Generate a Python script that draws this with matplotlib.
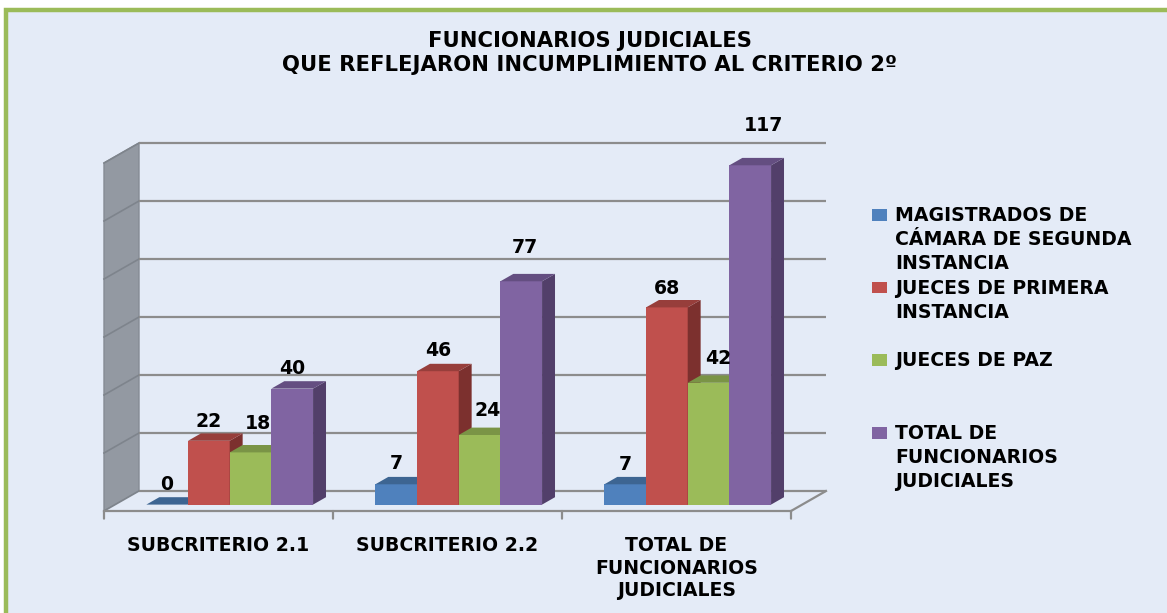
import matplotlib
matplotlib.use("Agg")
import matplotlib.pyplot as plt
from matplotlib.patches import Polygon, Rectangle
import numpy as np

# ---------------- data ----------------
categories = ["SUBCRITERIO 2.1", "SUBCRITERIO 2.2", "TOTAL DE\nFUNCIONARIOS\nJUDICIALES"]
series_names = ["MAGISTRADOS DE\nCÁMARA DE SEGUNDA\nINSTANCIA",
                "JUECES DE PRIMERA\nINSTANCIA",
                "JUECES DE PAZ",
                "TOTAL DE\nFUNCIONARIOS\nJUDICIALES"]
magistrados = [0, 7, 7]
jueces_primera = [22, 46, 68]
jueces_paz = [18, 24, 42]
total_funcionarios = [40, 77, 117]
title = "FUNCIONARIOS JUDICIALES\nQUE REFLEJARON INCUMPLIMIENTO AL CRITERIO 2º"
y_max = 120
y_step = 20

series_values = [magistrados, jueces_primera, jueces_paz, total_funcionarios]

# ---------------- style ----------------
W, H, DPI = 1167, 613, 100
BG = "#E4EBF7"
BORDER = "#9BBB59"
WALL = "#9399A2"
GRID = "#8C8C8C"
front_cols = ["#4F81BD", "#C0504D", "#9BBB59", "#8064A2"]
top_cols = ["#3D6592", "#973E3B", "#7A9446", "#644E81"]
side_cols = ["#33557D", "#7C302E", "#637A37", "#523F6A"]
FONT = "DejaVu Sans"
FS = 13.6

# label offsets in pixels (dx, dy) per series/category
label_off = [[(-1, 20), (0, 21), (0, 20)],
             [(0, 19), (0, 20.5), (0, 19)],
             [(7, 29), (8, 25), (10, 24.5)],
             [(0, 20), (4, 34), (13, 40)]]

fig = plt.figure(figsize=(W / DPI, H / DPI), dpi=DPI, facecolor="white")

# chart area background with green border (top/left visible)
fig.patches.append(Rectangle((6 / W, -0.1), 1.2, 1 - 10 / H + 0.1,
                             transform=fig.transFigure, facecolor=BG,
                             edgecolor=BORDER, linewidth=3.2, zorder=-5))

# back wall axes (pixel geometry)
L, R, T, B = 139, 826, 143, 491
ax = fig.add_axes([L / W, 1 - B / H, (R - L) / W, (B - T) / H])
ax.set_zorder(1)
ax.set_xlim(-0.5, len(categories) - 0.5)
ax.set_ylim(0, y_max)
ax.axis("off")
ax.patch.set_visible(False)

px_per_cat = (R - L) / len(categories)
px_per_val = (B - T) / y_max
DEPTH_PX = (35, 20)
DX = DEPTH_PX[0] / px_per_cat
DY = DEPTH_PX[1] / px_per_val


def proj(x, y, d):
    """3D point (category x, value y, depth d: 0 front .. 1 back) -> axes data."""
    return (x - (1 - d) * DX, y - (1 - d) * DY)


x0, x1 = -0.5, len(categories) - 0.5
levels = np.arange(0, y_max + y_step, y_step)

# side wall
side = Polygon([proj(x0, 0, 0), proj(x0, 0, 1), proj(x0, y_max, 1), proj(x0, y_max, 0)],
               closed=True, facecolor=WALL, edgecolor="#868C94", linewidth=1.0,
               clip_on=False, zorder=1)
ax.add_patch(side)
for v in levels:
    p0, p1 = proj(x0, v, 0), proj(x0, v, 1)
    ax.plot([p0[0], p1[0]], [p0[1], p1[1]], color="#7E848C", lw=1.2, clip_on=False, zorder=2)

# back wall gridlines
ax.hlines(levels, x0, x1, colors=GRID, lw=1.6, zorder=2, clip_on=False)

# floor
floor_pts = [proj(x0, 0, 0), proj(x1, 0, 0), proj(x1, 0, 1), proj(x0, 0, 1)]
ax.add_patch(Polygon(floor_pts, closed=True, facecolor=BG, edgecolor="none",
                     clip_on=False, zorder=1.5))
for a, b in [(proj(x0, 0, 0), proj(x1, 0, 0)), (proj(x1, 0, 0), proj(x1, 0, 1))]:
    ax.plot([a[0], b[0]], [a[1], b[1]], color=GRID, lw=1.6, clip_on=False, zorder=2)

# category tick marks
for xb in np.arange(x0, x1 + 0.01, 1.0):
    p = proj(xb, 0, 0)
    ax.annotate("", xy=p, xytext=(0, -5.5), textcoords="offset points",
                arrowprops=dict(arrowstyle="-", color=GRID, lw=1.6,
                                shrinkA=0, shrinkB=0), annotation_clip=False)

# bars
n_ser = len(series_values)
bw = 0.182
d_front, d_back = 0.32, 0.69
xs = np.arange(len(categories))
for i, vals in enumerate(series_values):
    lefts = xs - n_ser * bw / 2 + i * bw
    fx, fy = proj(0, 0, d_front)
    bars = ax.bar(lefts + fx, vals, width=bw, bottom=fy, align="edge",
                  color=front_cols[i], linewidth=0, clip_on=False)
    for j, (rect, v) in enumerate(zip(bars, vals)):
        z = 10 + j * n_ser + i
        rect.set_zorder(z)
        l, r_ = lefts[j], lefts[j] + bw
        side_poly = [proj(r_, 0, d_front), proj(r_, 0, d_back),
                     proj(r_, v, d_back), proj(r_, v, d_front)]
        top_poly = [proj(l, v, d_front), proj(r_, v, d_front),
                    proj(r_, v, d_back), proj(l, v, d_back)]
        ax.add_patch(Polygon(side_poly, closed=True, facecolor=side_cols[i],
                             edgecolor="none", clip_on=False, zorder=z + 0.3))
        ax.add_patch(Polygon(top_poly, closed=True, facecolor=top_cols[i],
                             edgecolor="none", clip_on=False, zorder=z + 0.4))
        # data label
        cx = (l + r_) / 2
        ox, oy = label_off[i][j]
        ax.annotate(str(v), xy=proj(cx, v, d_front), xytext=(ox * 0.72, oy * 0.72),
                    textcoords="offset points", ha="center", va="center",
                    fontsize=FS, fontweight="bold", family=FONT, color="black",
                    annotation_clip=False, zorder=50)

# category labels
for j, c in enumerate(categories):
    ax.annotate(c, xy=proj(xs[j], 0, 0), xytext=(0, -18), textcoords="offset points",
                ha="center", va="top", fontsize=FS, fontweight="bold", family=FONT,
                linespacing=1.24, annotation_clip=False)

# title
fig.text(590 / W, 1 - 31 / H, title, ha="center", va="top", fontsize=15.2,
         fontweight="bold", family=FONT, linespacing=1.25)

# legend (manual, top-aligned entries)
leg_x_mark, leg_x_text = 872, 895
leg_y0, leg_step = 209, 72.7
for i, name in enumerate(series_names):
    ytop = leg_y0 + i * leg_step
    fig.patches.append(Rectangle((leg_x_mark / W, 1 - (ytop + 11.5) / H), 15 / W, 11.5 / H,
                                 transform=fig.transFigure, facecolor=front_cols[i],
                                 edgecolor="none", zorder=5))
    fig.text(leg_x_text / W, 1 - (ytop - 3) / H, name, ha="left", va="top",
             fontsize=FS, fontweight="bold", family=FONT, linespacing=1.32)

fig.savefig("out.png", dpi=DPI, facecolor="white")
